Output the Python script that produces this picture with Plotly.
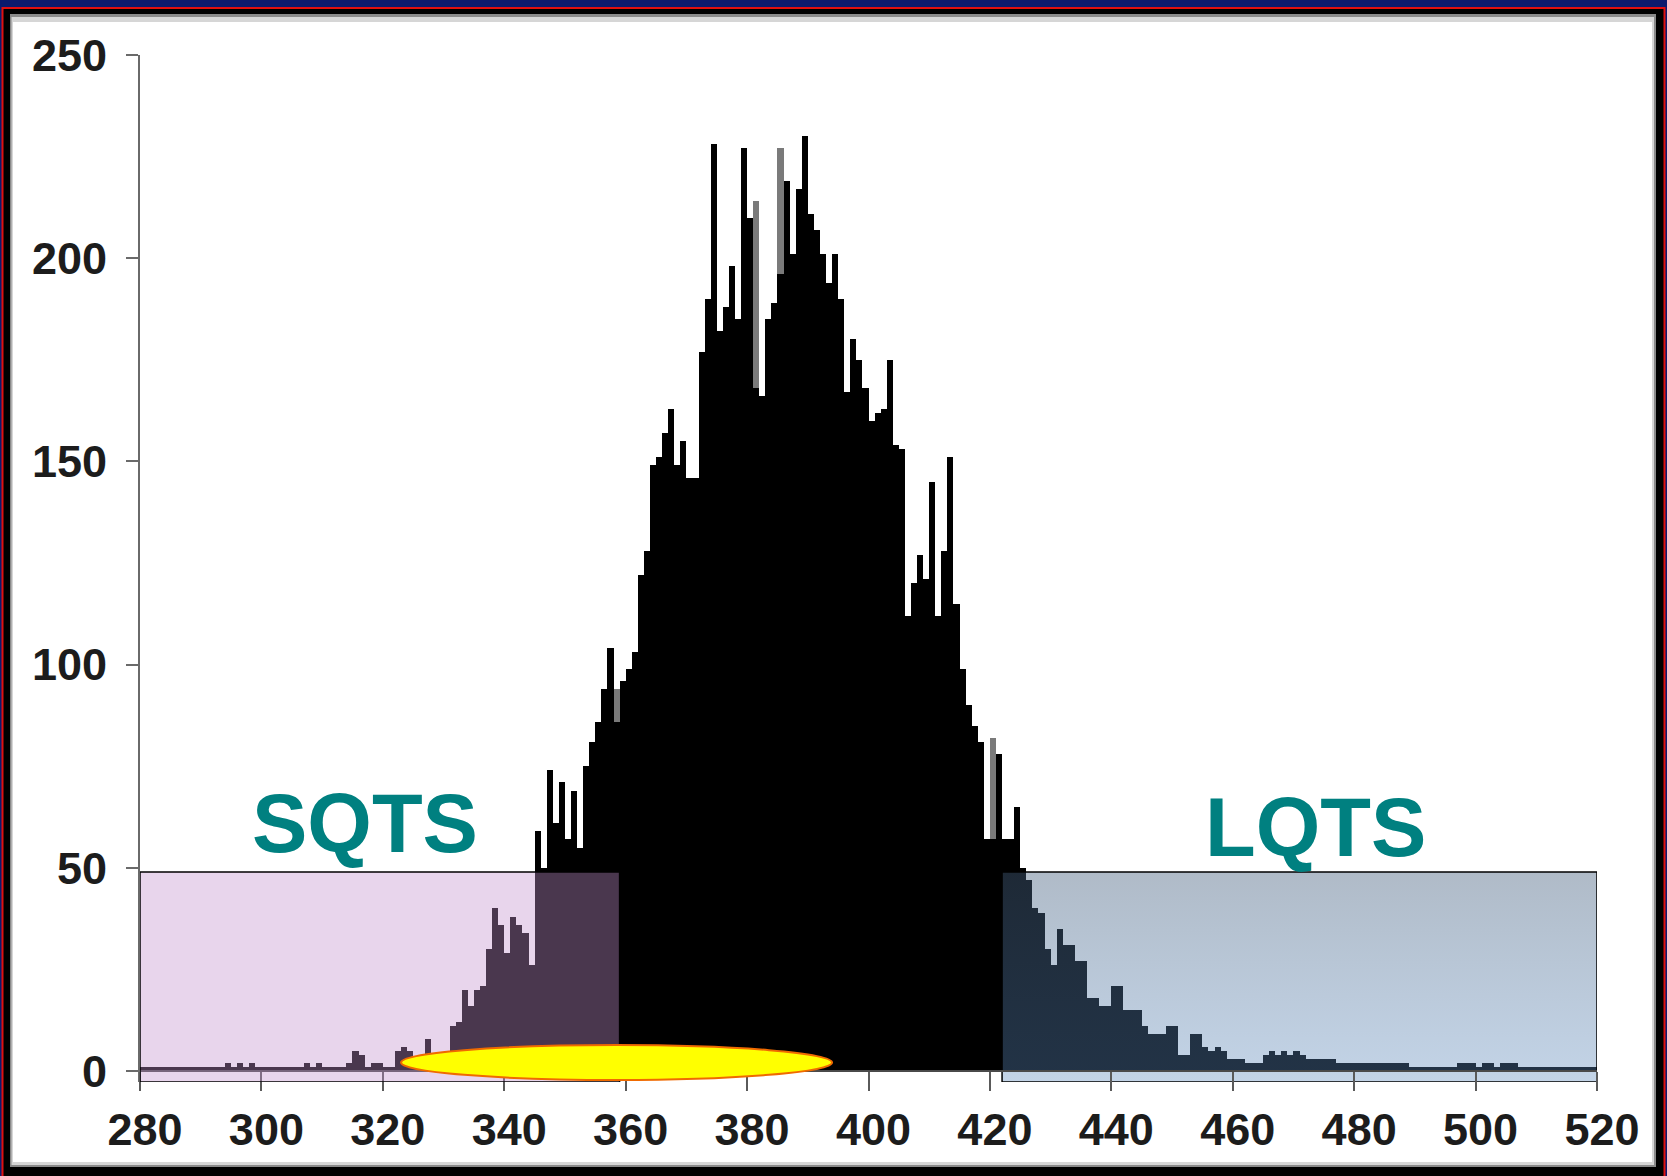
import plotly.graph_objects as go

# ---------------- data ----------------
bin_start = 280          # first bin left edge (ms)
bin_width = 1            # ms
counts = [
    1, 1, 1, 1, 1, 1, 1, 1, 1, 1,            # 280-289
    1, 1, 1, 1, 2, 1, 2, 1, 2, 1,            # 290-299
    1, 1, 1, 1, 1, 1, 1, 2, 1, 2,            # 300-309
    1, 1, 1, 1, 2, 5, 4, 1, 2, 2,            # 310-319
    1, 1, 5, 6, 5, 2, 3, 8, 3, 4,            # 320-329
    4, 11, 12, 20, 16, 20, 21, 30, 40, 36,   # 330-339
    29, 38, 36, 34, 26, 59, 50, 74, 61, 71,  # 340-349
    57, 69, 55, 75, 81, 86, 94, 104, 86, 96, # 350-359
    99, 103, 122, 128, 149, 151, 157, 163, 149, 155,   # 360-369
    146, 146, 177, 190, 228, 182, 188, 198, 185, 227,  # 370-379
    210, 168, 166, 185, 189, 196, 219, 201, 217, 230,  # 380-389
    211, 207, 201, 194, 201, 190, 167, 180, 175, 168,  # 390-399
    160, 162, 163, 175, 154, 153, 112, 120, 127, 121,  # 400-409
    145, 112, 128, 151, 115, 99, 90, 85, 81, 57,       # 410-419
    57, 78, 57, 57, 65, 50, 47, 40, 39, 30,            # 420-429
    26, 35, 31, 31, 27, 27, 18, 18, 16, 16,            # 430-439
    21, 21, 15, 15, 15, 11, 9, 9, 9, 11,               # 440-449
    11, 4, 4, 9, 9, 6, 5, 6, 5, 3,                     # 450-459
    3, 3, 2, 2, 2, 4, 5, 4, 5, 4,                      # 460-469
    5, 4, 3, 3, 3, 3, 3, 2, 2, 2,                      # 470-479
    2, 2, 2, 2, 2, 2, 2, 2, 2, 1,                      # 480-489
    1, 1, 1, 1, 1, 1, 1, 2, 2, 2,                      # 490-499
    1, 2, 2, 1, 2, 2, 2, 1, 1, 1,                      # 500-509
    1, 1, 1, 1, 1, 1, 1, 1, 1, 1,                      # 510-519
]
# lighter (grey) bars visible behind the black ones
grey_bins = [358, 381, 385, 420]
grey_counts = [94, 214, 227, 82]

x_ticks = [280, 300, 320, 340, 360, 380, 400, 420, 440, 460, 480, 500, 520]
y_ticks = [0, 50, 100, 150, 200, 250]

sqts_range = [280, 359]   # QT range highlighted as SQTS
lqts_range = [422, 520]   # QT range highlighted as LQTS
band_top = 49
band_bottom = -2.7
oval_x = [323, 394]
oval_y = [-2.2, 6.4]
labels = ["SQTS", "LQTS"]
label_x = [317, 473.6]
label_y = [61, 60]

# ---------------- figure ----------------
centers = [bin_start + bin_width * (i + 0.5) for i in range(len(counts))]
grey_centers = [b + bin_width * 0.5 for b in grey_bins]

W, H = 1667, 1176
ML, MR, MT, MB = 140, 70, 55, 94
PW, PH = W - ML - MR, H - MT - MB
y_range = [band_bottom, 250]
NAVY = "#0b1a6e"


def px(xp):
    return (xp - ML) / PW


def py(yp):
    return (H - MB - yp) / PH


fig = go.Figure()
fig.add_trace(go.Bar(x=grey_centers, y=grey_counts, width=bin_width,
                     marker=dict(color="#7a7a7a", line=dict(width=0)),
                     hoverinfo="skip", showlegend=False))
fig.add_trace(go.Bar(x=centers, y=counts, width=bin_width,
                     marker=dict(color="black", line=dict(width=0)),
                     showlegend=False))

# LQTS band with vertical gradient
fig.add_trace(go.Scatter(
    x=[lqts_range[0], lqts_range[1], lqts_range[1], lqts_range[0], lqts_range[0]],
    y=[band_bottom, band_bottom, band_top, band_top, band_bottom],
    mode="lines", fill="toself",
    line=dict(color="black", width=1.5),
    fillgradient=dict(type="vertical", start=band_bottom, stop=band_top,
                      colorscale=[[0, "rgba(92,138,190,0.37)"],
                                  [1, "rgba(70,96,126,0.43)"]]),
    hoverinfo="skip", showlegend=False))

shapes = [
    # frame
    dict(type="rect", xref="paper", yref="paper", layer="below",
         x0=px(2.5), x1=px(1664.5), y0=py(1190), y1=py(8),
         fillcolor="black", line=dict(color="#e01010", width=2)),
    dict(type="rect", xref="paper", yref="paper", layer="below",
         x0=px(10), x1=px(1656), y0=py(1167), y1=py(14),
         fillcolor="#8a8a8a", line=dict(width=0)),
    dict(type="rect", xref="paper", yref="paper", layer="below",
         x0=px(11.5), x1=px(1654), y0=py(1165), y1=py(17),
         fillcolor="#d6d6d6", line=dict(width=0)),
    dict(type="rect", xref="paper", yref="paper", layer="below",
         x0=px(13), x1=px(1652), y0=py(1162), y1=py(22),
         fillcolor="white", line=dict(width=0)),
    # SQTS band
    dict(type="rect", xref="x", yref="y", layer="above",
         x0=sqts_range[0], x1=sqts_range[1], y0=band_bottom, y1=band_top,
         fillcolor="rgba(195,145,206,0.38)", line=dict(color="black", width=1.5)),
    # yellow oval
    dict(type="circle", xref="x", yref="y", layer="above",
         x0=oval_x[0], x1=oval_x[1], y0=oval_y[0], y1=oval_y[1],
         fillcolor="#ffff00", line=dict(color="#f06a00", width=2)),
]

annotations = [
    dict(x=lx, y=ly, xref="x", yref="y", text=t, showarrow=False,
         xanchor="center", yanchor="middle",
         font=dict(family="Liberation Sans, Arial, sans-serif", size=83,
                   color="#008080", weight="bold"))
    for t, lx, ly in zip(labels, label_x, label_y)
]

tick_font = dict(family="Liberation Sans, Arial, sans-serif",
                 size=45, color="#1c1c1c", weight="bold")

fig.update_layout(
    width=W, height=H, autosize=False,
    margin=dict(l=ML, r=MR, t=MT, b=MB, pad=0),
    paper_bgcolor=NAVY, plot_bgcolor="rgba(0,0,0,0)",
    barmode="overlay", bargap=0,
    shapes=shapes, annotations=annotations,
    xaxis=dict(range=[280, 520], tickmode="array", tickvals=x_ticks,
               ticktext=[str(v) for v in x_ticks], automargin=False,
               anchor="free", position=(0 - y_range[0]) / (y_range[1] - y_range[0]),
               ticks="outside", ticklen=19, tickwidth=2, tickcolor="#5a5a5a",
               showline=True, linecolor="#4a4a4a", linewidth=2,
               showgrid=False, zeroline=False, tickfont=tick_font,
               ticklabelstandoff=0, ticklabelshift=5),
    yaxis=dict(range=y_range, tickmode="array", tickvals=y_ticks,
               ticktext=[str(v) for v in y_ticks], automargin=False,
               ticks="outside", ticklen=12, tickwidth=2, tickcolor="#6a6a6a",
               showline=True, linecolor="#6a6a6a", linewidth=2,
               showgrid=False, zeroline=False, tickfont=tick_font,
               ticklabelstandoff=10),
)

fig.write_html(
    "out.html",
    config={"displayModeBar": False},
    post_script="document.body.style.margin='0';"
                "document.body.style.background='" + NAVY + "';"
                "document.body.style.overflow='hidden';",
)
